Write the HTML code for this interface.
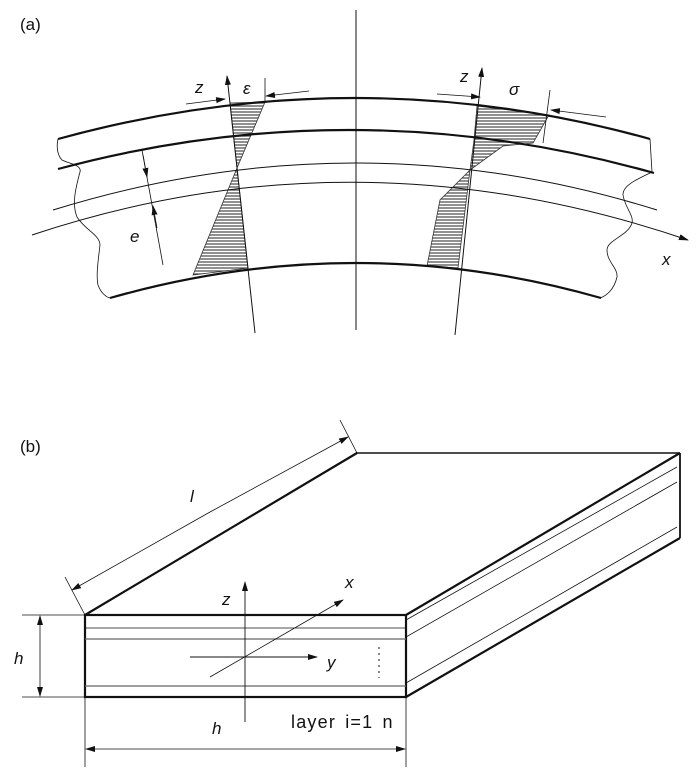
<!DOCTYPE html>
<html><head><meta charset="utf-8"><style>
html,body{margin:0;padding:0;background:#fff;}
svg{display:block;}
text{font-family:"Liberation Sans",sans-serif;fill:#111;}
</style></head><body>
<svg width="700" height="776" viewBox="0 0 700 776" xmlns="http://www.w3.org/2000/svg">
<defs>
<pattern id="h" width="4" height="3" patternUnits="userSpaceOnUse"><rect width="4" height="3" fill="#fff"/><line x1="0" y1="1" x2="4" y2="1" stroke="#555" stroke-width="1.3"/></pattern>
<marker id="a" markerWidth="10" markerHeight="8" refX="9" refY="4" orient="auto" markerUnits="userSpaceOnUse"><path d="M0,1 L10,4 L0,7 Z" fill="#111"/></marker>
</defs>
<g fill="none" stroke="#111">
<!-- (a) -->
<line x1="356" y1="10" x2="356" y2="330" stroke-width="1"/>
<polygon points="230,103 265,102 237,168" fill="url(#h)" stroke="#333" stroke-width="0.8"/>
<polygon points="237,168 193,275 248,268" fill="url(#h)" stroke="#333" stroke-width="0.8"/>
<polygon points="477,106 549,115 533,143 503,146 470,170 440,200 427,266 458,268 470,170 474,140" fill="url(#h)" stroke="#333" stroke-width="0.8"/>
<path d="M58,139 Q356,57 650,139" stroke-width="2.2"/>
<path d="M58,169 Q356,89 654,173" stroke-width="2.2"/>
<path d="M53,210 Q356,116 657,210" stroke-width="1"/>
<path d="M32,235 Q356,127 688,240" stroke-width="1" marker-end="url(#a)"/>
<path d="M110,298 Q356,228 601,298" stroke-width="2.2"/>
<path d="M58,139 C56,148 58,156 62,160 C70,164 82,165 80,172 C75,190 72,205 77,217 C85,230 100,235 100,245 C98,262 96,275 98,285 C101,293 106,297 110,298" stroke-width="0.8"/>
<path d="M650,139 L652,172 C640,178 622,185 623,195 C625,208 634,215 632,223 C628,236 607,240 607,250 C607,262 618,268 617,277 C614,290 606,296 600,298" stroke-width="0.8"/>
<line x1="255" y1="333" x2="227" y2="76" stroke-width="1" marker-end="url(#a)"/>
<line x1="455" y1="335" x2="482" y2="68" stroke-width="1" marker-end="url(#a)"/>
<line x1="265" y1="78" x2="265" y2="102" stroke-width="0.8"/>
<line x1="550" y1="90" x2="543" y2="143" stroke-width="0.8"/>
<line x1="186" y1="104" x2="225" y2="99" stroke-width="0.8" marker-end="url(#a)"/>
<line x1="309" y1="91" x2="266" y2="96" stroke-width="0.8" marker-end="url(#a)"/>
<line x1="437" y1="94" x2="480" y2="97" stroke-width="0.8" marker-end="url(#a)"/>
<line x1="606" y1="117" x2="551" y2="110" stroke-width="0.8" marker-end="url(#a)"/>
<line x1="163" y1="265" x2="142" y2="150" stroke-width="0.8"/>
<line x1="143" y1="155" x2="147" y2="177" stroke-width="0.8" marker-end="url(#a)"/>
<line x1="157" y1="228" x2="153" y2="206" stroke-width="0.8" marker-end="url(#a)"/>
<!-- (b) -->
<line x1="85" y1="615" x2="357" y2="453" stroke-width="2.2"/>
<line x1="357" y1="453" x2="680" y2="453" stroke-width="1.6"/>
<line x1="680" y1="453" x2="406" y2="615" stroke-width="2.2"/>
<line x1="680" y1="453" x2="680" y2="538" stroke-width="1.8"/>
<line x1="680" y1="538" x2="406" y2="697" stroke-width="2.2"/>
<rect x="85" y="615" width="321" height="82" stroke-width="2.2"/>
<line x1="85" y1="628" x2="406" y2="628" stroke-width="0.8"/>
<line x1="85" y1="639" x2="406" y2="639" stroke-width="1.2" stroke="#666"/>
<line x1="85" y1="686" x2="406" y2="686" stroke-width="1.2" stroke="#666"/>
<line x1="406" y1="620" x2="677" y2="467" stroke-width="0.8"/>
<line x1="406" y1="637" x2="677" y2="482" stroke-width="0.8"/>
<line x1="406" y1="683" x2="677" y2="527" stroke-width="0.8"/>
<line x1="85" y1="615" x2="65" y2="577" stroke-width="0.8"/>
<line x1="357" y1="453" x2="340" y2="420" stroke-width="0.8"/>
<line x1="210" y1="512" x2="72" y2="590" stroke-width="0.8" marker-end="url(#a)"/>
<line x1="210" y1="512" x2="348" y2="437" stroke-width="0.8" marker-end="url(#a)"/>
<line x1="22" y1="615" x2="85" y2="615" stroke-width="0.8"/>
<line x1="22" y1="697" x2="85" y2="697" stroke-width="0.8"/>
<line x1="40" y1="655" x2="40" y2="616" stroke-width="0.8" marker-end="url(#a)"/>
<line x1="40" y1="655" x2="40" y2="696" stroke-width="0.8" marker-end="url(#a)"/>
<line x1="85" y1="697" x2="85" y2="767" stroke-width="0.8"/>
<line x1="406" y1="697" x2="406" y2="767" stroke-width="0.8"/>
<line x1="246" y1="749" x2="86" y2="749" stroke-width="0.8" marker-end="url(#a)"/>
<line x1="246" y1="749" x2="405" y2="749" stroke-width="0.8" marker-end="url(#a)"/>
<line x1="245" y1="722" x2="245" y2="582" stroke-width="0.9" marker-end="url(#a)"/>
<line x1="190" y1="657" x2="317" y2="657" stroke-width="0.9" marker-end="url(#a)"/>
<line x1="210" y1="677" x2="343" y2="600" stroke-width="0.8" marker-end="url(#a)"/>
<line x1="379" y1="647" x2="379" y2="678" stroke-width="1" stroke-dasharray="2,4"/>
</g>
<g font-size="17">
<text x="20" y="30">(a)</text>
<text x="195" y="93" font-style="italic">z</text>
<text x="243" y="94" font-style="italic" font-family="Liberation Serif">ε</text>
<text x="460" y="82" font-style="italic">z</text>
<text x="509" y="95" font-style="italic" font-family="Liberation Serif">σ</text>
<text x="130" y="242" font-style="italic">e</text>
<text x="662" y="265" font-style="italic">x</text>
<text x="20" y="452">(b)</text>
<text x="190" y="502" font-style="italic">l</text>
<text x="14" y="664" font-style="italic">h</text>
<text x="222" y="605" font-style="italic">z</text>
<text x="345" y="588" font-style="italic">x</text>
<text x="327" y="668" font-style="italic">y</text>
<text x="212" y="734" font-style="italic">h</text>
<text x="291" y="728" font-size="18" letter-spacing="1.2" word-spacing="3">layer i=1 n</text>
</g>
</svg>
</body></html>
